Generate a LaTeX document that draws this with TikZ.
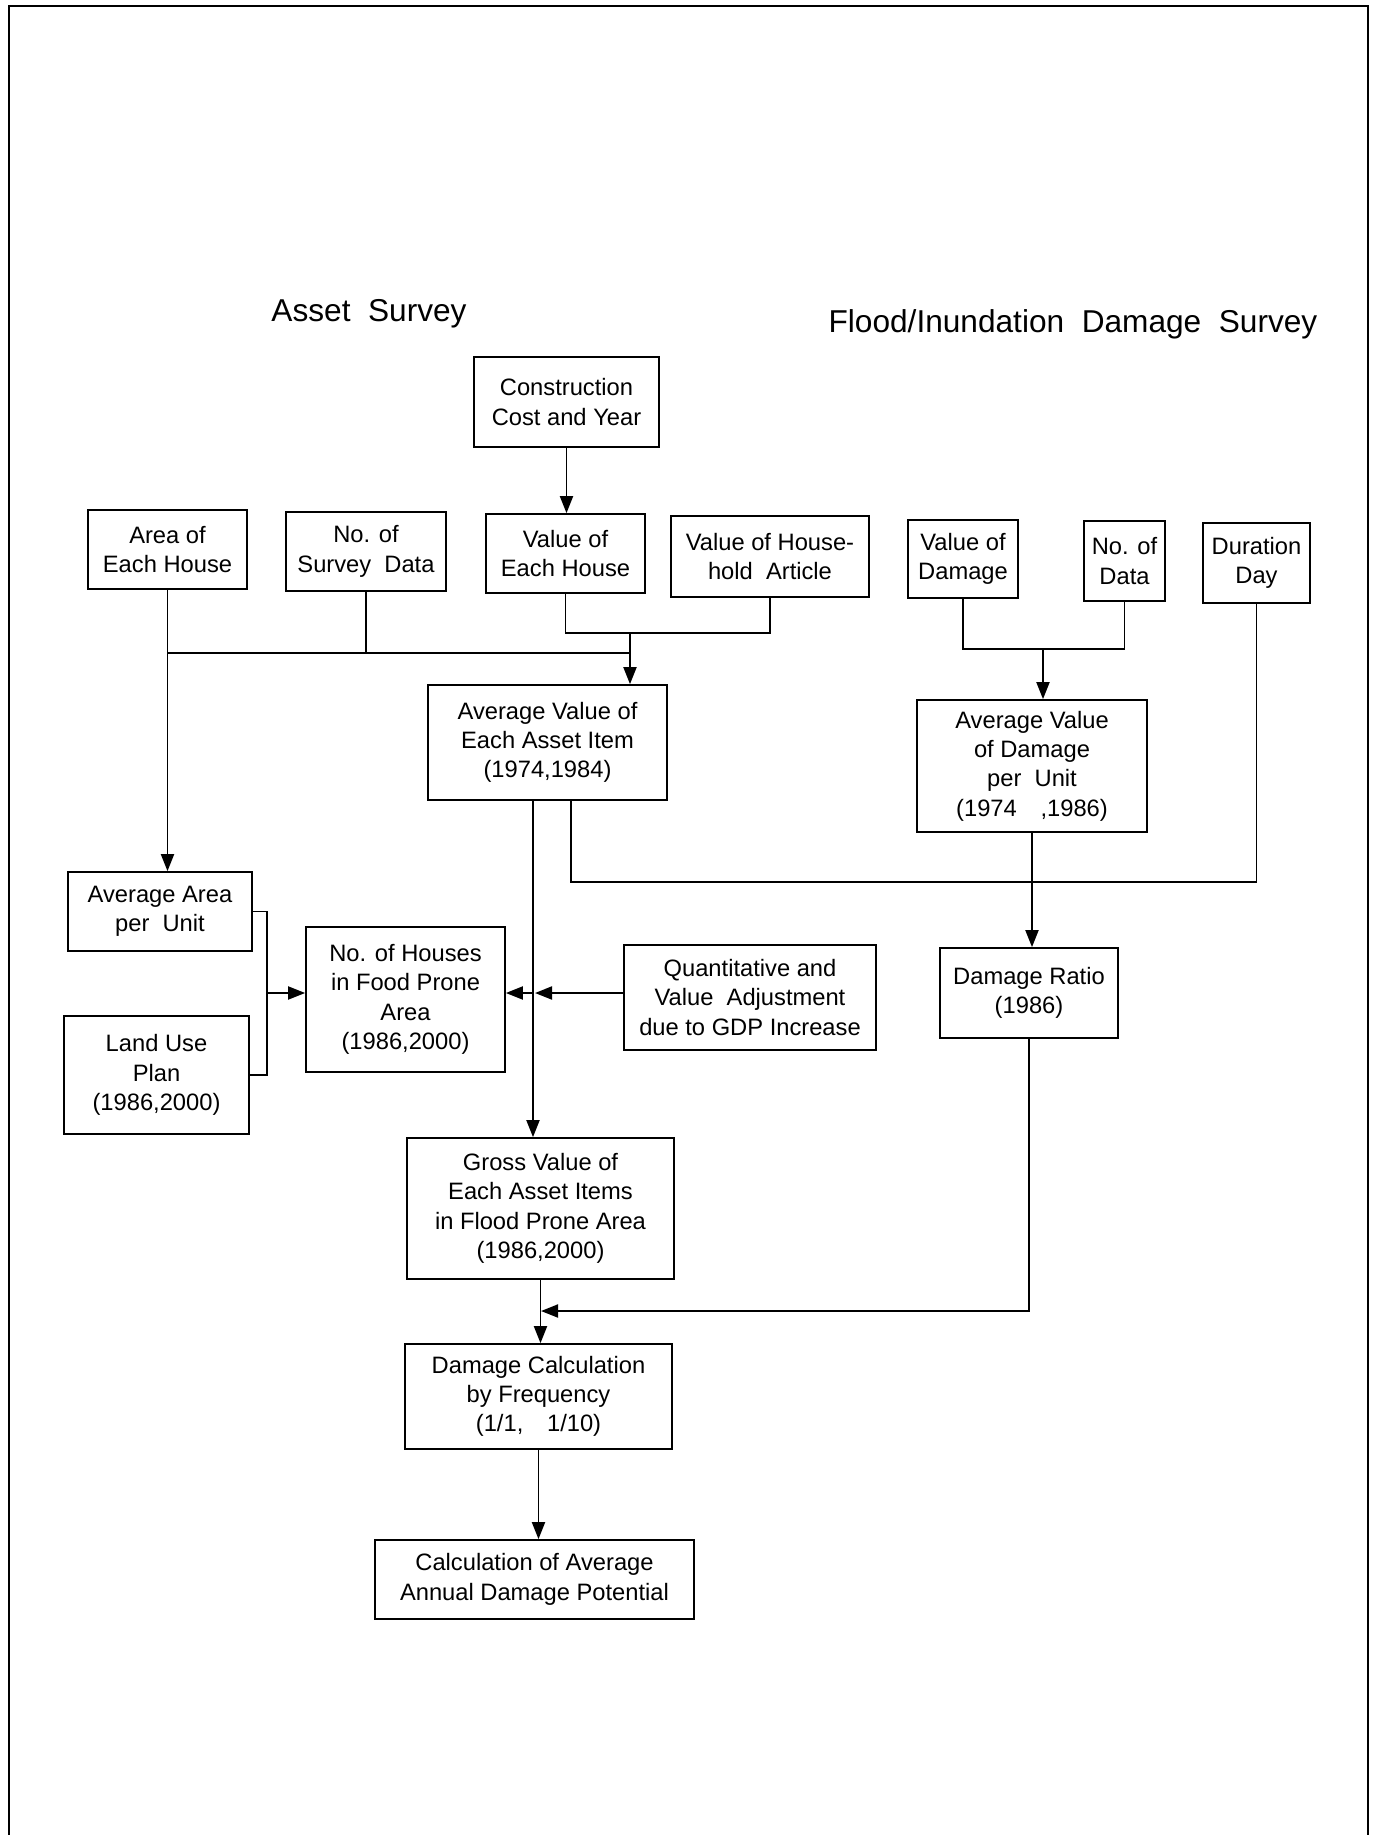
\documentclass[tikz,border=0pt]{standalone}
\usepackage{fontspec}
\setmainfont{Liberation Sans}
\usetikzlibrary{arrows.meta}

\tikzset{
  box/.style={draw, line width=1pt, align=center, inner sep=1pt,
    font=\fontsize{13.5}{16.7}\selectfont},
  title/.style={font=\fontsize{18}{21}\selectfont},
  arr/.style={-{Triangle[length=0.34cm,width=0.26cm]}},
}

\begin{document}
\begin{tikzpicture}[x=0.02cm, y=-0.02cm, line width=1.1pt]
\useasboundingbox (0,0) rectangle (1379,1835);
\draw[line width=1.4pt] (9,1835) -- (9,6) -- (1368,6) -- (1368,1835);

\node[title] (asset) at (369,314) {Asset\ \ Survey};
\node[title] (flood) at (1073,324) {Flood/Inundation\ \ Damage\ \ Survey};

\node[box, minimum width=3.70cm, minimum height=1.80cm] (constr) at (566.5,402) {Construction\\Cost and Year};
\node[box, minimum width=3.18cm, minimum height=1.58cm] (areahouse) at (167.5,549.5) {Area of\\Each House};
\node[box, minimum width=3.20cm, minimum height=1.58cm] (nosurvey) at (366,551.5) {No. of\\Survey\ \ Data};
\node[box, minimum width=3.18cm, minimum height=1.58cm] (valhouse) at (565.5,553.5) {Value of\\Each House};
\node[box, minimum width=3.96cm, minimum height=1.62cm] (valarticle) at (770,556.5) {Value of House-\\hold\ \ Article};
\node[box, minimum width=2.20cm, minimum height=1.56cm] (valdamage) at (963,559) {Value of\\Damage};
\node[box, minimum width=1.62cm, minimum height=1.60cm] (nodata) at (1124.5,561) {No. of\\Data};
\node[box, minimum width=2.14cm, minimum height=1.60cm] (duration) at (1256.5,563) {Duration\\Day};
\node[box, minimum width=4.78cm, minimum height=2.30cm] (avgasset) at (547.5,742.5) {Average Value of\\Each Asset Item\\(1974,1984)};
\node[box, minimum width=4.60cm, minimum height=2.64cm] (avgdamage) at (1032,766) {Average Value\\of Damage\\per\ \ Unit\\(1974\quad ,1986)};
\node[box, minimum width=3.68cm, minimum height=1.58cm] (avgarea) at (160,911.5) {Average Area\\per\ \ Unit};
\node[box, minimum width=3.70cm, minimum height=2.36cm] (landuse) at (156.5,1075) {Land Use\\Plan\\(1986,2000)};
\node[box, minimum width=3.98cm, minimum height=2.90cm] (houses) at (405.5,999.5) {No. of Houses\\in Food Prone\\Area\\(1986,2000)};
\node[box, minimum width=5.04cm, minimum height=2.10cm] (quant) at (750,997.5) {Quantitative and\\Value\ \ Adjustment\\due to GDP Increase};
\node[box, minimum width=3.56cm, minimum height=1.80cm] (ratio) at (1029,993) {Damage Ratio\\(1986)};
\node[box, minimum width=5.34cm, minimum height=2.82cm] (gross) at (540.5,1208.5) {Gross Value of\\Each Asset Items\\in Flood Prone Area\\(1986,2000)};
\node[box, minimum width=5.34cm, minimum height=2.10cm] (damcalc) at (538.5,1396.5) {Damage Calculation\\by Frequency\\(1/1,\quad 1/10)};
\node[box, minimum width=6.38cm, minimum height=1.58cm] (calcavg) at (534.5,1579.5) {Calculation of Average\\Annual Damage Potential};

% asset survey
\coordinate (j1) at (630,633);
\coordinate (j2) at (630,653);
\draw[arr] (constr.south) -- (constr.south |- valhouse.north);
\draw (valhouse.south) |- (j1) -| (valarticle.south);
\draw[arr] (j1) -- (j1 |- avgasset.north);
\draw (areahouse.south |- j2) -- (j2);
\draw (nosurvey.south) -- (nosurvey.south |- j2);
\draw[arr] (areahouse.south) -- (areahouse.south |- avgarea.north);

% damage survey
\coordinate (j3) at (1043,649);
\draw (valdamage.south) |- (j3) -| (nodata.south);
\draw[arr] (j3) -- (j3 |- avgdamage.north);
\draw[arr] (avgdamage.south) -- (avgdamage.south |- ratio.north);

\coordinate (v1) at ([xshift=-0.29cm]avgasset.south);
\coordinate (v2) at ([xshift=0.47cm]avgasset.south);
\coordinate (k) at (1256.5,882);
\draw[arr] (v1) -- (v1 |- gross.north);
\draw (v2) |- (k) -- (duration.south);

% houses
\coordinate (b) at (267,993);
\coordinate (c) at (533,993);
\draw (avgarea.east) -| (b);
\draw (landuse.east) -| (b);
\draw[arr] (b) -- (b -| houses.west);
\draw[arr] (c) -- (c -| houses.east);
\draw[arr] (quant.west |- c) -- ([xshift=0.04cm]c);

% calculation
\coordinate (d) at (541,1311);
\draw[arr] (ratio.south) |- (d);
\draw[arr] (gross.south) -- (gross.south |- damcalc.north);
\draw[arr] (damcalc.south) -- (damcalc.south |- calcavg.north);
\end{tikzpicture}
\end{document}
